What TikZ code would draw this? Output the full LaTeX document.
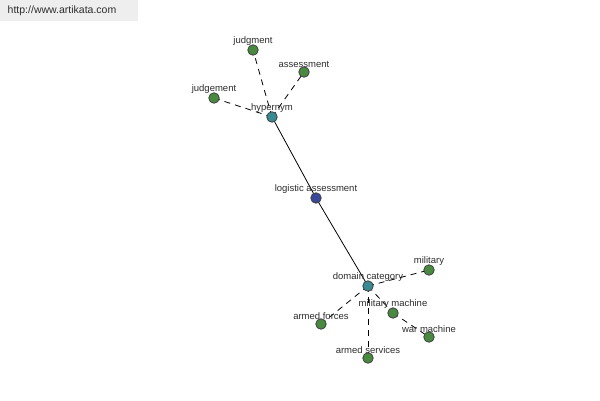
\documentclass[tikz,border=0pt]{standalone}
\usepackage{fontspec}
\setmainfont{Liberation Sans}
\usetikzlibrary{backgrounds}
\definecolor{LeafGreen}{RGB}{74,138,64}
\definecolor{HubTeal}{RGB}{58,138,146}
\definecolor{RootBlue}{RGB}{58,72,154}
\definecolor{TagGray}{RGB}{238,238,238}
\definecolor{TextGray}{RGB}{45,45,45}

\begin{document}
\begin{tikzpicture}[x=1pt, y=-1pt,
    dot/.style={circle, draw=black!75, line width=0.8pt, minimum size=10.5pt, inner sep=0pt},
    leaf/.style={dot, fill=LeafGreen},
    hub/.style={dot, fill=HubTeal},
    root/.style={dot, fill=RootBlue},
    tag/.style={label={[font=\fontsize{9.5}{11}\selectfont, text=TextGray, inner sep=0pt, label distance=-1pt]above:#1}},
    link/.style={black, line width=0.8pt, dash pattern=on 6pt off 5pt}
]
\useasboundingbox (0,0) rectangle (600,400);

% ============================
\fill[TagGray] (0,0) rectangle (138,21);
\node[text=TextGray, font=\fontsize{10.5}{12}\selectfont] (site) at (62,11) {http://www.artikata.com};

% ============================
\node[root, tag={logistic assessment}] (logistic) at (316,198) {};

\node[hub, tag={hypernym}] (hypernym) at (272,117) {};
\node[leaf, tag={judgment}] (judgment) at (253,50) {};
\node[leaf, tag={assessment}] (assessment) at (304,72) {};
\node[leaf, tag={judgement}] (judgement) at (214,98) {};

\node[hub, tag={domain category}] (domain) at (368,286) {};
\node[leaf, tag={military}] (military) at (429,270) {};
\node[leaf, tag={military machine}] (milmachine) at (393,313) {};
\node[leaf, tag={war machine}] (warmachine) at (429,337) {};
\node[leaf, tag={armed forces}] (forces) at (321,324) {};
\node[leaf, tag={armed services}] (services) at (368,358) {};

% ============================
\begin{scope}[on background layer]
\draw[black, line width=0.8pt] (hypernym.center) -- (logistic.center) -- (domain.center);

\draw[link] (hypernym.center) -- (judgment.center);
\draw[link] (hypernym.center) -- (assessment.center);
\draw[link] (hypernym.center) -- (judgement.center);

\draw[link] (domain.center) -- (military.center);
\draw[link] (domain.center) -- (milmachine.center);
\draw[link] (milmachine.center) -- (warmachine.center);
\draw[link] (domain.center) -- (forces.center);
\draw[link] (domain.center) -- (services.center);
\end{scope}

\end{tikzpicture}
\end{document}
